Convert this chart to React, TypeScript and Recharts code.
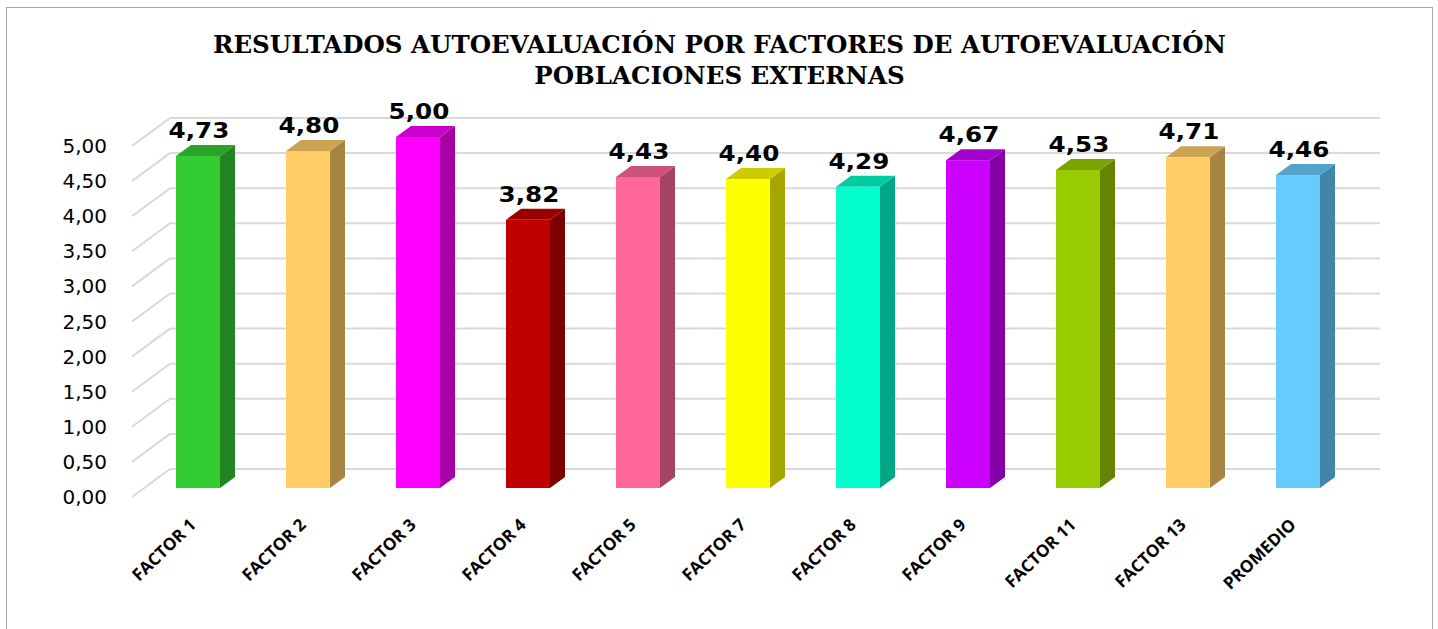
import React from 'react';
import { BarChart, Bar, XAxis, YAxis, CartesianGrid, LabelList } from 'recharts';

const categories = ['FACTOR 1', 'FACTOR 2', 'FACTOR 3', 'FACTOR 4', 'FACTOR 5', 'FACTOR 7', 'FACTOR 8', 'FACTOR 9', 'FACTOR 11', 'FACTOR 13', 'PROMEDIO'];
const values = [4.73, 4.8, 5.0, 3.82, 4.43, 4.4, 4.29, 4.67, 4.53, 4.71, 4.46];
const barColors = ['#33CC33', '#FFCC66', '#FF00FF', '#C00000', '#FF6699', '#FFFF00', '#00FFCC', '#CC00FF', '#99CC00', '#FFCC66', '#66CCFF'];
const yTicks = [0, 0.5, 1, 1.5, 2, 2.5, 3, 3.5, 4, 4.5, 5];
const titleLines = ['RESULTADOS AUTOEVALUACIÓN POR FACTORES DE AUTOEVALUACIÓN', 'POBLACIONES EXTERNAS'];

const data = categories.map((name, i) => ({ name, value: values[i] }));

const fmt = (v: number) => v.toFixed(2).replace('.', ',');

function shade(hex: string, f: number) {
  const n = parseInt(hex.slice(1), 16);
  const r = Math.round(((n >> 16) & 255) * f);
  const g = Math.round(((n >> 8) & 255) * f);
  const b = Math.round((n & 255) * f);
  return `rgb(${r},${g},${b})`;
}

// 3D depth of bars
const BDX = 15;
const BDY = 11;
// depth of the wall/floor
const WDX_FRONT = 11;
const WDX_BACK = 27;
const WDY_FRONT = 9;
const WDY_BACK = 19;

const Bar3D = (props: any) => {
  const { x, y, width, height, index } = props;
  const c = barColors[index];
  const front = c;
  const side = shade(c, 0.65);
  const top = shade(c, 0.8);
  return (
    <g>
      <polygon
        points={`${x + width},${y} ${x + width + BDX},${y - BDY} ${x + width + BDX},${y + height - BDY} ${x + width},${y + height}`}
        fill={side}
      />
      <polygon
        points={`${x},${y} ${x + BDX},${y - BDY} ${x + width + BDX},${y - BDY} ${x + width},${y}`}
        fill={top}
      />
      <rect x={x} y={y} width={width} height={height} fill={front} />
    </g>
  );
};

const gridLine = (p: any) => {
  const { x1, x2, y1, key } = p;
  return (
    <g key={key}>
      <line x1={x1 + WDX_BACK} y1={y1 - WDY_BACK} x2={x2 + WDX_BACK} y2={y1 - WDY_BACK} stroke="#D9D9D9" strokeWidth={2} />
      <line x1={x1 - WDX_FRONT} y1={y1 + WDY_FRONT} x2={x1 + WDX_BACK} y2={y1 - WDY_BACK} stroke="#D9D9D9" strokeWidth={2} />
    </g>
  );
};

const YTick = (props: any) => {
  const { x, y, payload } = props;
  return (
    <text x={x - 36} y={y + WDY_FRONT} textAnchor="end" dominantBaseline="central" fontFamily="'DejaVu Sans', Verdana, sans-serif" fontSize={20} fill="#000">
      {fmt(payload.value)}
    </text>
  );
};

const XTick = (props: any) => {
  const { x, y, payload } = props;
  const px = x - 1;
  const py = y + 38;
  return (
    <text x={px} y={py} textAnchor="end" transform={`rotate(-44, ${px}, ${py})`} fontFamily="'Open Sans', sans-serif" fontWeight={700} fontSize={17} fill="#000">
      {payload.value}
    </text>
  );
};

const ValueLabel = (props: any) => {
  const { x, y, width, value } = props;
  const cx = x + width / 2 + 1;
  const cy = y - 18;
  return (
    <text transform={`translate(${cx}, ${cy}) scale(1.12, 1)`} x={0} y={0} textAnchor="middle" fontFamily="'DejaVu Sans', Verdana, sans-serif" fontWeight={700} fontSize={22} fill="#000">
      {fmt(value)}
    </text>
  );
};

export default function App() {
  return (
    <div style={{ position: 'absolute', left: 0, top: 0, width: 1438, height: 629, background: '#fff', overflow: 'hidden' }}>
      <div style={{ position: 'absolute', left: 6, top: 7, width: 1427, height: 640, border: '1px solid #A6A6A6', boxSizing: 'border-box' }} />
      <svg style={{ position: 'absolute', left: 0, top: 0 }} width={1438} height={110}>
        {titleLines.map((t, i) => (
          <text key={i} x={719.5} y={53 + i * 31} textAnchor="middle" fontFamily="'DejaVu Serif', serif" fontWeight={700} fontSize={24.5} fill="#000">
            {t}
          </text>
        ))}
      </svg>
      <div style={{ position: 'absolute', left: 0, top: 0 }}>
        <BarChart width={1438} height={629} data={data} margin={{ top: 137, right: 85, bottom: 0, left: 103 }} barSize={44}>
          <CartesianGrid vertical={false} horizontal={gridLine} />
          <YAxis domain={[0, 5]} ticks={yTicks} width={40} axisLine={false} tickLine={false} tickSize={0} tickMargin={0} tick={<YTick />} interval={0} />
          <XAxis dataKey="name" height={141} axisLine={false} tickLine={false} tickSize={0} tickMargin={0} interval={0} tick={<XTick />} />
          <Bar dataKey="value" shape={<Bar3D />} isAnimationActive={false}>
            <LabelList dataKey="value" content={<ValueLabel />} />
          </Bar>
        </BarChart>
      </div>
    </div>
  );
}
